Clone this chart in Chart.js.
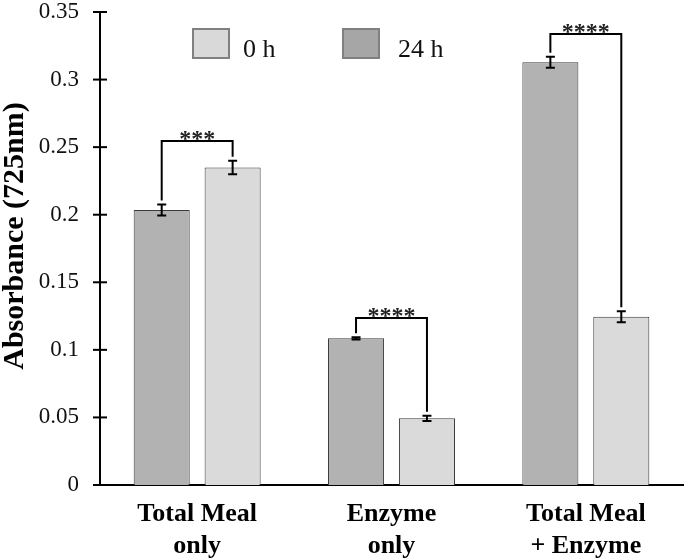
<!DOCTYPE html>
<html>
<head>
<meta charset="utf-8">
<script src="https://cdn.jsdelivr.net/npm/chart.js@4/dist/chart.umd.min.js"></script>
<style>
html,body{margin:0;padding:0;background:#fff;}
#wrap{width:685px;height:560px;position:relative;}
</style>
</head>
<body>
<div id="wrap"><canvas id="c"></canvas></div>
<script>
// ---- data ----
const categories = [["Total Meal","only"],["Enzyme","only"],["Total Meal","+ Enzyme"]];
const seriesLabels = ["24 h","0 h"];
const values24h = [0.2035, 0.1085, 0.3128];
const values0h  = [0.2350, 0.0493, 0.1245];
const err24h = [0.0040, 0.0008, 0.0040];
const err0h  = [0.0050, 0.0020, 0.0040];
const bracketTop = [0.2546, 0.1236, 0.3337];
const stars = ["***","****","****"];
const yTicks = [0, 0.05, 0.1, 0.15, 0.2, 0.25, 0.3, 0.35];
const yTitle = 'Absorbance (725nm)';

const SERIF = "'Liberation Serif','Times New Roman',serif";
const colors = {dark:'#b2b2b2', light:'#dadada', border:'#3a3a3a', legDark:'#a6a6a6', legLight:'#d9d9d9', legBorder:'#808080'};

const errs = [err24h, err0h];

const extras = {
  id:'extras',
  afterDatasetsDraw(chart){
    const ctx = chart.ctx, y = chart.scales.y;
    ctx.save();
    ctx.strokeStyle = '#000'; ctx.lineWidth = 2;
    // error bars
    chart.data.datasets.forEach((ds, di) => {
      const meta = chart.getDatasetMeta(di);
      meta.data.forEach((el, i) => {
        const v = ds.data[i], e = errs[di][i];
        const x = el.x, yt = y.getPixelForValue(v + e), yb = y.getPixelForValue(v - e);
        ctx.beginPath();
        ctx.moveTo(x, yt); ctx.lineTo(x, yb);
        ctx.moveTo(x - 4.5, yt); ctx.lineTo(x + 4.5, yt);
        ctx.moveTo(x - 4.5, yb); ctx.lineTo(x + 4.5, yb);
        ctx.stroke();
      });
    });
    // significance brackets
    const m0 = chart.getDatasetMeta(0), m1 = chart.getDatasetMeta(1);
    categories.forEach((c, i) => {
      const xl = m0.data[i].x, xr = m1.data[i].x;
      const yTop = y.getPixelForValue(bracketTop[i]);
      const yl = y.getPixelForValue(values24h[i] + err24h[i]) - 4;
      const yr = y.getPixelForValue(values0h[i] + err0h[i]) - 4;
      ctx.beginPath();
      ctx.moveTo(xl, yl); ctx.lineTo(xl, yTop); ctx.lineTo(xr, yTop); ctx.lineTo(xr, yr);
      ctx.stroke();
      ctx.fillStyle = '#222';
      ctx.font = "bold 24px " + SERIF;
      ctx.textAlign = 'center'; ctx.textBaseline = 'alphabetic';
      ctx.fillText(stars[i], (xl + xr) / 2, yTop + 5);
    });
    // y tick marks crossing the axis
    const xa = chart.scales.y.right;
    yTicks.forEach(t => {
      const py = y.getPixelForValue(t);
      ctx.beginPath(); ctx.moveTo(xa - 7, py); ctx.lineTo(xa + 7, py); ctx.stroke();
    });
    // y axis title
    ctx.save();
    ctx.translate(15, 236);
    ctx.rotate(-Math.PI / 2);
    ctx.fillStyle = '#000';
    ctx.font = "bold 30px " + SERIF;
    ctx.textAlign = 'center'; ctx.textBaseline = 'middle';
    ctx.fillText(yTitle, 0, 0);
    ctx.restore();
    // legend (0 h first, then 24 h)
    const items = [{label: seriesLabels[1], fill: colors.legLight}, {label: seriesLabels[0], fill: colors.legDark}];
    const xs = [193, 343];
    items.forEach((it, k) => {
      ctx.fillStyle = it.fill;
      ctx.fillRect(xs[k], 29, 36, 29);
      ctx.strokeStyle = colors.legBorder; ctx.lineWidth = 2;
      ctx.strokeRect(xs[k], 29, 36, 29);
      ctx.fillStyle = '#111';
      ctx.font = "26px " + SERIF;
      ctx.textAlign = 'left'; ctx.textBaseline = 'alphabetic';
      ctx.fillText(it.label, xs[k] + 50 + (k ? 5 : 0), 57);
    });
    ctx.restore();
  }
};

new Chart(document.getElementById('c'), {
  type: 'bar',
  data: {
    labels: categories,
    datasets: [
      {label: seriesLabels[0], data: values24h, backgroundColor: colors.dark, borderColor: colors.border, borderWidth: 1},
      {label: seriesLabels[1], data: values0h, backgroundColor: colors.light, borderColor: colors.border, borderWidth: 1}
    ]
  },
  options: {
    responsive: true,
    maintainAspectRatio: false,
    animation: false,
    datasets: {bar: {categoryPercentage: 0.73, barPercentage: 0.79}},
    layout: {autoPadding: false, padding: {top: 12, right: 2, left: 0, bottom: 0}},
    plugins: {legend: {display: false}, tooltip: {enabled: false}},
    scales: {
      x: {
        grid: {display: false, drawTicks: false},
        border: {display: true, color: '#000', width: 2},
        ticks: {color: '#000', font: {family: SERIF, size: 26, weight: 'bold', lineHeight: 1.25}, padding: 13, maxRotation: 0, autoSkip: false},
        afterFit(s){ s.height = 75; s.paddingLeft = 0; s.paddingRight = 0; }
      },
      y: {
        min: 0, max: 0.35,
        afterBuildTicks(s){ s.ticks = yTicks.map(v => ({value: v})); },
        grid: {display: false, drawTicks: false},
        border: {display: true, color: '#000', width: 2},
        ticks: {color: '#111', font: {family: SERIF, size: 23}, padding: 21,
                callback: v => String(+Number(v).toFixed(2))},
        title: {display: false},
        afterFit(s){ s.width = 100; s.paddingTop = 0; s.paddingBottom = 0; }
      }
    }
  },
  plugins: [extras]
});
</script>
</body>
</html>
